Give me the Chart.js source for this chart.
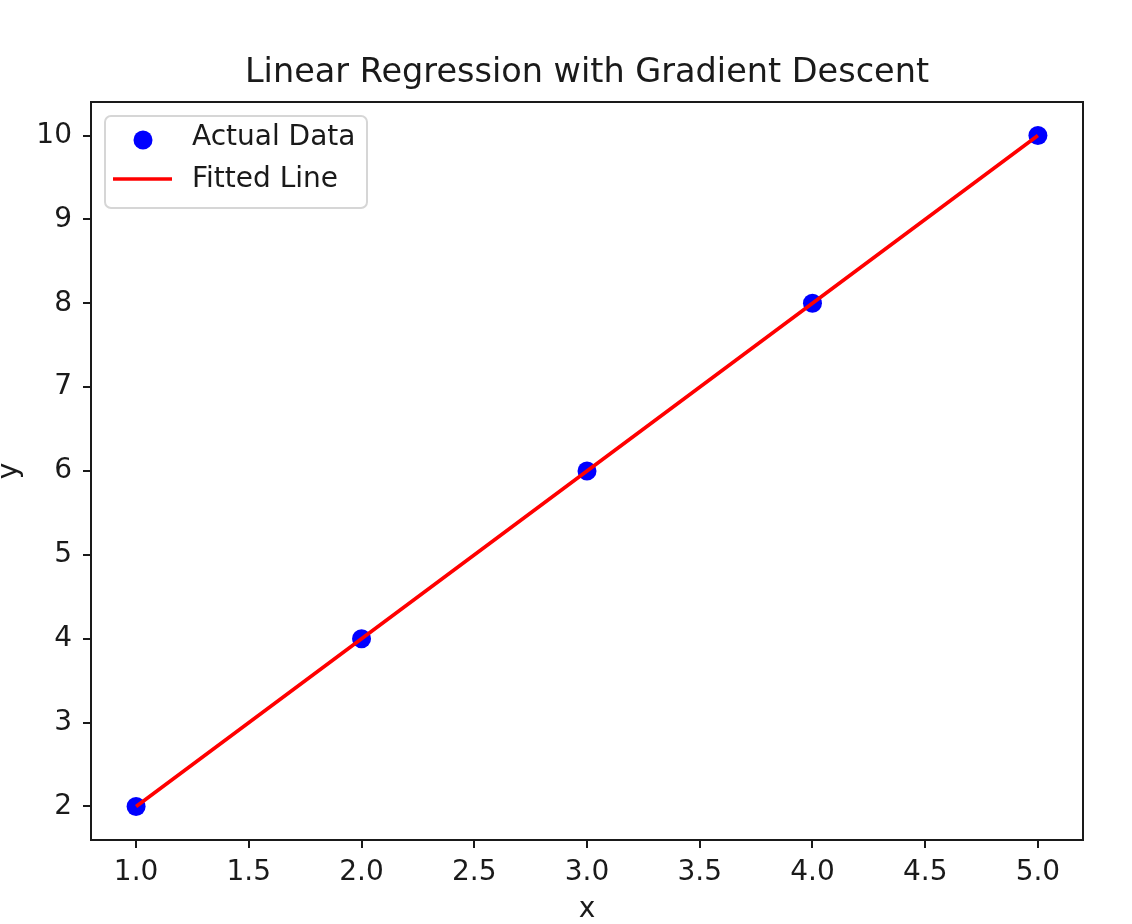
<!DOCTYPE html>
<html>
<head>
<meta charset="utf-8">
<script src="https://cdn.jsdelivr.net/npm/chart.js@4"></script>
<style>
  html, body { margin: 0; padding: 0; background: #fff; }
  #wrap { width: 1132px; height: 924px; }
</style>
</head>
<body>
<div id="wrap"><canvas id="c" width="1132" height="924"></canvas></div>
<script>
const TITLE = 'Linear Regression with Gradient Descent';
const X_LABEL = 'x';
const Y_LABEL = 'y';
const X_VALUES = [1, 2, 3, 4, 5];
const Y_ACTUAL = [2, 4, 6, 8, 10];
const X_FIT = [1, 2, 3, 4, 5];
const Y_FIT = [2.0, 4.0, 6.0, 8.0, 10.0];
const X_TICKS = [1.0, 1.5, 2.0, 2.5, 3.0, 3.5, 4.0, 4.5, 5.0];
const Y_TICKS = [2, 3, 4, 5, 6, 7, 8, 9, 10];
const SERIES_NAMES = ['Actual Data', 'Fitted Line'];

const FONT = 'DejaVu Sans';
const TEXT_COLOR = '#1a1a1a';

const framePlugin = {
  id: 'frame',
  afterDatasetsDraw(chart) {
    const { ctx, chartArea: a } = chart;
    ctx.save();
    ctx.strokeStyle = '#1a1a1a';
    ctx.lineWidth = 2;
    ctx.strokeRect(a.left, a.top, a.right - a.left, a.bottom - a.top);
    ctx.restore();
  },
  afterDraw(chart) {
    const { ctx, chartArea: a } = chart;
    // title
    ctx.save();
    ctx.fillStyle = TEXT_COLOR;
    ctx.font = '33.5px "' + FONT + '"';
    ctx.textAlign = 'center';
    ctx.textBaseline = 'middle';
    ctx.fillText(TITLE, (a.left + a.right) / 2, 73);
    ctx.restore();

    // legend
    const ds = chart.data.datasets;
    const bx = 105, by = 116, bw = 262, bh = 92, r = 6;
    ctx.save();
    ctx.beginPath();
    ctx.moveTo(bx + r, by);
    ctx.arcTo(bx + bw, by, bx + bw, by + bh, r);
    ctx.arcTo(bx + bw, by + bh, bx, by + bh, r);
    ctx.arcTo(bx, by + bh, bx, by, r);
    ctx.arcTo(bx, by, bx + bw, by, r);
    ctx.closePath();
    ctx.fillStyle = 'rgba(255,255,255,0.8)';
    ctx.fill();
    ctx.strokeStyle = '#d6d6d6';
    ctx.lineWidth = 2;
    ctx.stroke();

    const sc = ds.find(d => d.type === 'scatter');
    const ln = ds.find(d => d.type === 'line');
    ctx.beginPath();
    ctx.arc(143, 140, sc.pointRadius, 0, Math.PI * 2);
    ctx.fillStyle = sc.backgroundColor;
    ctx.fill();
    ctx.beginPath();
    ctx.moveTo(113, 179);
    ctx.lineTo(172, 179);
    ctx.strokeStyle = ln.borderColor;
    ctx.lineWidth = ln.borderWidth;
    ctx.stroke();

    ctx.fillStyle = TEXT_COLOR;
    ctx.font = '28px "' + FONT + '"';
    ctx.textAlign = 'left';
    ctx.textBaseline = 'middle';
    ctx.fillText(sc.label, 192, 138);
    ctx.fillText(ln.label, 192, 180);
    ctx.restore();
  }
};

const chart = new Chart(document.getElementById('c'), {
  data: {
    datasets: [
      {
        type: 'line',
        label: SERIES_NAMES[1],
        data: X_FIT.map((x, i) => ({ x, y: Y_FIT[i] })),
        borderColor: '#ff0000',
        borderWidth: 3.6,
        pointRadius: 0,
        fill: false,
        tension: 0,
        order: 0
      },
      {
        type: 'scatter',
        label: SERIES_NAMES[0],
        data: X_VALUES.map((x, i) => ({ x, y: Y_ACTUAL[i] })),
        backgroundColor: '#0000ff',
        borderWidth: 0,
        pointRadius: 9.5,
        pointHoverRadius: 9.5,
        order: 1
      }
    ]
  },
  options: {
    responsive: false,
    animation: false,
    devicePixelRatio: 1,
    layout: { padding: { left: 0, right: 49, top: 102, bottom: 0 } },
    plugins: {
      legend: { display: false },
      title: { display: false },
      tooltip: { enabled: false }
    },
    scales: {
      x: {
        type: 'linear',
        position: 'bottom',
        min: 0.8,
        max: 5.2,
        afterBuildTicks(s) { s.ticks = X_TICKS.map(v => ({ value: v })); },
        afterFit(s) { s.height = 84; },
        border: { display: false },
        grid: { drawOnChartArea: false, drawTicks: true, tickLength: 8, color: '#1a1a1a', lineWidth: 2 },
        ticks: {
          font: { family: FONT, size: 28 },
          color: TEXT_COLOR,
          padding: 8,
          maxRotation: 0,
          autoSkip: false,
          callback: v => Number(v).toFixed(1)
        },
        title: {
          display: true,
          text: X_LABEL,
          font: { family: FONT, size: 28, lineHeight: 1 },
          color: TEXT_COLOR,
          padding: { top: 0, bottom: 0 }
        }
      },
      y: {
        type: 'linear',
        position: 'left',
        min: 1.6,
        max: 10.4,
        afterBuildTicks(s) { s.ticks = Y_TICKS.map(v => ({ value: v })); },
        afterFit(s) { s.width = 91; },
        border: { display: false },
        grid: { drawOnChartArea: false, drawTicks: true, tickLength: 8, color: '#1a1a1a', lineWidth: 2 },
        ticks: {
          font: { family: FONT, size: 28 },
          color: TEXT_COLOR,
          padding: 11,
          autoSkip: false,
          callback: v => String(Math.round(v))
        },
        title: {
          display: true,
          text: Y_LABEL,
          font: { family: FONT, size: 28, lineHeight: 1 },
          color: TEXT_COLOR,
          padding: { top: -4, bottom: 0 }
        }
      }
    }
  },
  plugins: [framePlugin]
});
</script>
</body>
</html>
